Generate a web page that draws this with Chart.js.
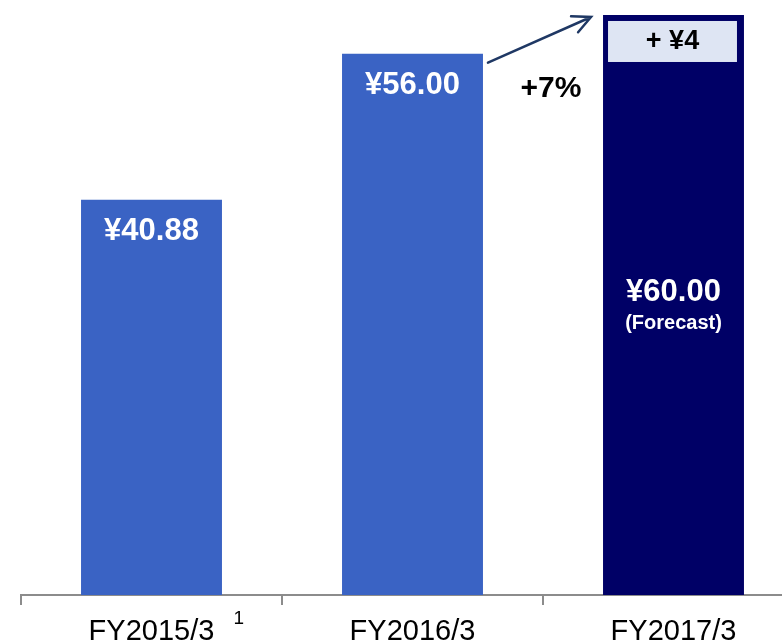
<!DOCTYPE html>
<html>
<head>
<meta charset="utf-8">
<script src="https://cdn.jsdelivr.net/npm/chart.js@4/dist/chart.umd.min.js"></script>
<style>
    html, body { margin: 0; padding: 0; background: #fff; overflow: hidden; }
    #dividendChart { display: block; }
</style>
</head>
<body>
<canvas id="dividendChart" width="810" height="660"></canvas>
<script>
// Dividend per share by fiscal year
const categories = ['FY2015/3', 'FY2016/3', 'FY2017/3'];
const dividends = [40.88, 56.00, 60.00];
const footnotes = ['1', '', ''];
const barColors = ['#3A63C4', '#3A63C4', '#000066'];

const FONT = '"Liberation Sans", Arial, sans-serif';

function yen(v) {
    return '\u00A5' + v.toFixed(2);
}

// Value labels, footnote marks and the year-on-year increase callout
const annotationsPlugin = {
    id: 'annotations',
    afterDatasetsDraw(chart) {
        const ctx = chart.ctx;
        const bars = chart.getDatasetMeta(0).data;
        ctx.save();
        ctx.textAlign = 'center';
        ctx.textBaseline = 'middle';
        ctx.fillStyle = '#fff';

        // value inside each bar
        bars.forEach((bar, i) => {
            const last = i === bars.length - 1;
            ctx.font = 'bold 31px ' + FONT;
            if (last) {
                ctx.fillText(yen(dividends[i]), bar.x, bar.y + 277);
                ctx.font = 'bold 20px ' + FONT;
                ctx.fillText('(Forecast)', bar.x, bar.y + 309);
            } else {
                ctx.fillText(yen(dividends[i]), bar.x, bar.y + 32);
            }
        });

        // increase box on top of the forecast bar
        const prev = bars[bars.length - 2];
        const cur = bars[bars.length - 1];
        const left = cur.x - cur.width / 2;
        const right = cur.x + cur.width / 2;
        ctx.fillStyle = '#DEE5F3';
        ctx.fillRect(left + 5, cur.y + 6, cur.width - 12, 41);
        ctx.fillStyle = '#000';
        ctx.font = 'bold 27px ' + FONT;
        const diff = dividends[dividends.length - 1] - dividends[dividends.length - 2];
        ctx.fillText('+ \u00A5' + Math.round(diff), (left + 5 + right - 7) / 2, cur.y + 27);

        // growth rate
        const growth = (dividends[dividends.length - 1] / dividends[dividends.length - 2] - 1) * 100;
        ctx.font = 'bold 30px ' + FONT;
        ctx.fillText('+' + Math.round(growth) + '%', left - 52, prev.y + 35);

        // arrow from previous bar to forecast bar
        const x0 = prev.x + prev.width / 2 + 5, y0 = prev.y + 9;
        const x1 = left - 12, y1 = cur.y + 2;
        const ang = Math.atan2(y1 - y0, x1 - x0);
        ctx.strokeStyle = '#1F3864';
        ctx.lineWidth = 2.5;
        ctx.lineCap = 'round';
        ctx.beginPath();
        ctx.moveTo(x0, y0);
        ctx.lineTo(x1, y1);
        ctx.moveTo(x1 - 20 * Math.cos(ang - 0.45), y1 - 20 * Math.sin(ang - 0.45));
        ctx.lineTo(x1, y1);
        ctx.lineTo(x1 - 20 * Math.cos(ang + 0.45), y1 - 20 * Math.sin(ang + 0.45));
        ctx.stroke();

        // footnote marks beside category labels
        const xScale = chart.scales.x;
        ctx.textAlign = 'left';
        footnotes.forEach((note, i) => {
            if (!note) return;
            ctx.font = '29px ' + FONT;
            const w = ctx.measureText(categories[i]).width;
            ctx.font = '19px ' + FONT;
            ctx.fillText(note, xScale.getPixelForValue(i) + w / 2 + 19, 619);
        });
        ctx.restore();
    }
};

new Chart(document.getElementById('dividendChart'), {
    type: 'bar',
    data: {
        labels: categories,
        datasets: [{
            data: dividends,
            backgroundColor: barColors,
            borderWidth: 0,
            categoryPercentage: 1,
            barPercentage: 0.54
        }]
    },
    options: {
        responsive: false,
        animation: false,
        layout: { padding: { left: 21, right: 6, top: 0, bottom: 0 } },
        plugins: {
            legend: { display: false },
            tooltip: { enabled: false }
        },
        scales: {
            x: {
                afterFit: scale => { scale.height = 65; },
                border: { display: true, color: '#8C8C8C', width: 2 },
                grid: {
                    display: true,
                    drawOnChartArea: false,
                    drawTicks: true,
                    tickLength: 10,
                    color: '#8C8C8C',
                    lineWidth: 2,
                    offset: true
                },
                ticks: {
                    color: '#000',
                    padding: 10,
                    font: { family: FONT, size: 29 }
                }
            },
            y: {
                display: false,
                min: 0,
                max: 61.55
            }
        }
    },
    plugins: [annotationsPlugin]
});
</script>
</body>
</html>
